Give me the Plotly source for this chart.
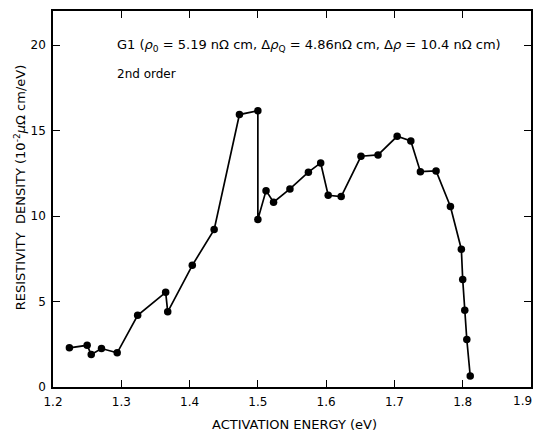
import plotly.graph_objects as go

# Resistivity density spectrum, sample G1, 2nd-order analysis
energy_ev = [1.224, 1.250, 1.256, 1.271, 1.294, 1.324, 1.365, 1.368, 1.404, 1.436,
             1.473, 1.500, 1.500, 1.512, 1.523, 1.547, 1.574, 1.592, 1.603, 1.622,
             1.651, 1.676, 1.704, 1.724, 1.738, 1.761, 1.782, 1.798, 1.800, 1.803,
             1.806, 1.811]
density = [2.29, 2.44, 1.90, 2.25, 2.00, 4.20, 5.54, 4.40, 7.12, 9.21,
           15.94, 16.17, 9.80, 11.49, 10.81, 11.59, 12.57, 13.11, 11.22, 11.14,
           13.50, 13.58, 14.67, 14.40, 12.60, 12.64, 10.56, 8.06, 6.29, 4.49,
           2.78, 0.64]

x_ticks = [1.2, 1.3, 1.4, 1.5, 1.6, 1.7, 1.8, 1.9]
x_tick_text = ["1.2", "1.3", "1.4", "1.5", "1.6", "1.7", "1.8", "1.9"]
y_ticks = [0, 5, 10, 15, 20]
y_tick_text = ["0", "5", "10", "15", "20"]

FONT = "DejaVu Sans"

fig = go.Figure()
fig.add_trace(go.Scatter(
    x=energy_ev, y=density, mode="lines+markers",
    line=dict(color="black", width=1.7),
    marker=dict(color="black", size=7.5),
    showlegend=False,
))

axis_common = dict(
    showgrid=False, zeroline=False, showline=True, linecolor="black", linewidth=1.5,
    ticks="inside", ticklen=7, tickwidth=1.3, tickcolor="black", mirror="allticks",
    tickfont=dict(family=FONT, size=12, color="black"),
    ticklabeloverflow="allow", automargin=False,
)

# The last x label sits on the right frame edge; it is drawn right-aligned
# so that it stays inside the page.
fig.update_xaxes(range=[1.2, 1.9], tickvals=x_ticks,
                 ticktext=x_tick_text[:-1] + [""],
                 ticklabelstandoff=3, **axis_common)
fig.update_yaxes(range=[0, 22], tickvals=y_ticks, ticktext=y_tick_text,
                 ticklabelstandoff=3, **axis_common)

fig.add_annotation(
    text=x_tick_text[-1], xref="x", yref="paper", x=x_ticks[-1], y=0,
    xanchor="right", yanchor="top", xshift=3, yshift=-5, showarrow=False,
    font=dict(family=FONT, size=12, color="black"),
)

fig.add_annotation(
    text="G1 (<i>ρ</i><sub>0</sub> = 5.19 nΩ cm, Δ<i>ρ</i><sub>Q</sub> = 4.86nΩ cm, Δ<i>ρ</i> = 10.4 nΩ cm)",
    xref="paper", yref="paper", x=0.13, y=20.0 / 22, xanchor="left", yanchor="middle",
    showarrow=False, font=dict(family=FONT, size=13, color="black"),
)
fig.add_annotation(
    text="2nd order", xref="paper", yref="paper", x=0.13, y=18.3 / 22,
    xanchor="left", yanchor="middle", showarrow=False,
    font=dict(family=FONT, size=12, color="black"),
)
fig.add_annotation(
    text="ACTIVATION ENERGY (eV)", xref="paper", yref="paper", x=0.505, y=-0.1,
    xanchor="center", yanchor="middle", showarrow=False,
    font=dict(family=FONT, size=13, color="black"),
)
fig.add_annotation(
    text="RESISTIVITY  DENSITY (10<sup>-2</sup><i>μ</i>Ω cm/eV)", xref="paper", yref="paper",
    x=-0.07, y=0.53, xanchor="center", yanchor="middle", textangle=-90, showarrow=False,
    font=dict(family=FONT, size=13, color="black"),
)

fig.update_layout(
    width=535, height=433,
    margin=dict(l=53, r=4, t=11, b=46, autoexpand=False),
    paper_bgcolor="white", plot_bgcolor="white",
)

fig.write_html("out.html")
